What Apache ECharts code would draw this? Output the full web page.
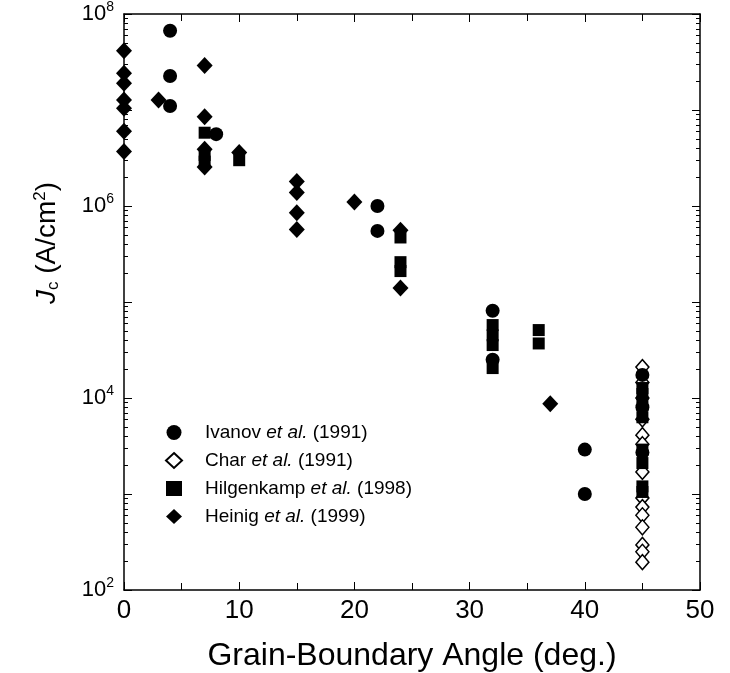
<!DOCTYPE html>
<html style="height: 100%">
<head>
    <meta charset="UTF-8">
    <script type="text/javascript" src="https://cdn.jsdelivr.net/npm/echarts@6/dist/echarts.min.js"></script>
</head>
<body style="height: 100%; margin: 0; background: #fff">
    <div id="container" style="width: 730px; height: 673px;"></div>
    <script type="text/javascript">
        // angle (deg.), Jc (A/cm2)
        var ivanov = [[4, 6.7e7], [4, 2.26e7], [4, 1.1e7], [8, 5.6e6], [22, 1.0e6], [22, 5.5e5],
            [32, 8.1e4], [32, 2.5e4], [40, 2.9e3], [40, 1.0e3], [45, 1.74e4], [45, 8.0e3], [45, 2.7e3]];
        var charData = [[45, 2.1e4], [45, 1.45e4], [45, 1.0e4], [45, 6.0e3], [45, 4.1e3], [45, 3.3e3],
            [45, 1.7e3], [45, 9.1e2], [45, 7.3e2], [45, 6.0e2], [45, 4.5e2], [45, 2.95e2], [45, 2.5e2], [45, 1.95e2]];
        var hilgenkamp = [[7, 5.8e6], [7, 3.4e6], [7, 2.9e6], [10, 3.0e6], [24, 4.7e5], [24, 2.6e5], [24, 2.1e5],
            [32, 5.75e4], [32, 4.5e4], [32, 3.56e4], [32, 2.05e4], [36, 5.1e4], [36, 3.7e4],
            [45, 1.27e4], [45, 1.1e4], [45, 8.5e3], [45, 6.3e3], [45, 2.9e3], [45, 2.1e3], [45, 1.2e3], [45, 1.05e3]];
        var heinig = [[0, 4.15e7], [0, 2.41e7], [0, 1.9e7], [0, 1.27e7], [0, 1.04e7], [0, 6.0e6], [0, 3.7e6],
            [3, 1.27e7], [7, 2.9e7], [7, 8.5e6], [7, 3.9e6], [7, 2.55e6], [10, 3.6e6],
            [15, 1.8e6], [15, 1.38e6], [15, 8.5e5], [15, 5.7e5], [20, 1.1e6], [24, 5.6e5], [24, 1.4e5], [37, 8.7e3]];

        var seriesNames = ['Ivanov', 'Char', 'Hilgenkamp', 'Heinig'];
        var seriesYears = ['1991', '1991', '1998', '1999'];

        var ink = '#000';
        var dom = document.getElementById("container");
        var myChart = echarts.init(dom);

        function yAxisDef(pos) {
            return {
                type: 'log', position: pos, min: 100, max: 1e8, logBase: 10,
                axisLine: { show: true, onZero: false, lineStyle: { color: ink, width: 1.5 } },
                axisTick: { show: true, inside: true, length: 8, lineStyle: { color: ink } },
                minorTick: { show: true, splitNumber: 9, length: 4, lineStyle: { color: ink } },
                axisLabel: pos === 'left' ? {
                    margin: 10,
                    formatter: function (v) {
                        var ex = Math.round(Math.log10(v));
                        return ex % 2 === 0 ? '{b|10}{s|' + ex + '}' : '';
                    },
                    rich: {
                        b: { fontSize: 22, color: ink, fontFamily: 'Liberation Sans' },
                        s: { fontSize: 14, color: ink, fontFamily: 'Liberation Sans', padding: [0, 0, 13, 0] }
                    }
                } : { show: false },
                splitLine: { show: false },
                minorSplitLine: { show: false }
            };
        }

        function xAxisDef(pos) {
            return {
                type: 'value', position: pos, min: 0, max: 50, interval: 10,
                axisLine: { onZero: false, lineStyle: { color: ink, width: 1.5 } },
                axisTick: { inside: true, length: 8, lineStyle: { color: ink } },
                minorTick: { show: true, splitNumber: 2, length: 7, lineStyle: { color: ink } },
                axisLabel: pos === 'bottom' ? { fontSize: 26, color: ink, margin: 8, fontFamily: 'Liberation Sans' } : { show: false },
                splitLine: { show: false },
                name: pos === 'bottom' ? 'Grain-Boundary Angle (deg.)' : '',
                nameLocation: 'middle', nameGap: 50,
                nameTextStyle: { fontSize: 32, color: ink, fontFamily: 'Liberation Sans' }
            };
        }

        function legendLabel(name) {
            var i = seriesNames.indexOf(name);
            return '{n|' + name + ' }{i|et al.}{n| (' + seriesYears[i] + ')}';
        }

        var option = {
            animation: false,
            grid: { left: 124, right: 30, top: 14, bottom: 83, outerBoundsMode: 'none' },
            xAxis: [xAxisDef('bottom'), xAxisDef('top')],
            yAxis: [yAxisDef('left'), yAxisDef('right')],
            legend: {
                orient: 'vertical', left: 160, top: 418, itemWidth: 16, itemHeight: 15, itemGap: 9,
                data: seriesNames,
                formatter: legendLabel,
                textStyle: {
                    padding: [0, 0, 0, 18],
                    rich: {
                        n: { fontSize: 19, color: ink, fontFamily: 'Liberation Sans', lineHeight: 20 },
                        i: { fontSize: 19, color: ink, fontFamily: 'Liberation Sans', fontStyle: 'italic', lineHeight: 20 }
                    }
                }
            },
            graphic: [{
                type: 'text', x: 47, y: 243, rotation: Math.PI / 2,
                style: {
                    text: '{j|J}{c|c}{t| (A/cm}{s|2}{t|)}',
                    align: 'center', verticalAlign: 'middle',
                    rich: {
                        j: { fontSize: 28, fontStyle: 'italic', fill: ink, fontFamily: 'Liberation Sans' },
                        c: { fontSize: 17, fill: ink, fontFamily: 'Liberation Sans', padding: [13, 0, 0, 0] },
                        t: { fontSize: 28, fill: ink, fontFamily: 'Liberation Sans' },
                        s: { fontSize: 17, fill: ink, fontFamily: 'Liberation Sans', padding: [0, 0, 14, 0] }
                    }
                }
            }],
            series: [{
                name: 'Char', type: 'scatter', data: charData, z: 2,
                symbol: 'diamond', symbolSize: [13, 15],
                itemStyle: { color: '#fff', borderColor: ink, borderWidth: 1.5, opacity: 1 }
            }, {
                name: 'Ivanov', type: 'scatter', data: ivanov, z: 3,
                symbol: 'circle', symbolSize: 14,
                itemStyle: { color: ink, opacity: 1 }
            }, {
                name: 'Hilgenkamp', type: 'scatter', data: hilgenkamp, z: 3,
                symbol: 'rect', symbolSize: 12,
                itemStyle: { color: ink, opacity: 1 }
            }, {
                name: 'Heinig', type: 'scatter', data: heinig, z: 3,
                symbol: 'diamond', symbolSize: [16, 17],
                itemStyle: { color: ink, opacity: 1 }
            }]
        };
        myChart.setOption(option, true);
        window.onresize = function () {
            myChart.resize();
        };
    </script>
</body>
</html>
